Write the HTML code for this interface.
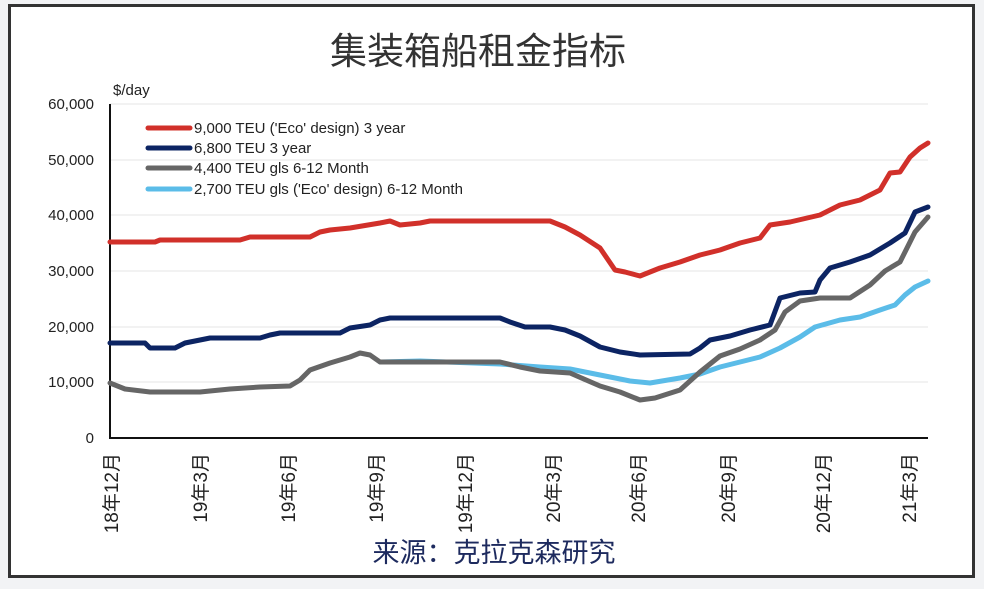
<!DOCTYPE html>
<html><head><meta charset="utf-8"><style>
body{margin:0;background:#f2f3f5;}
</style></head><body>
<svg width="984" height="589" xmlns="http://www.w3.org/2000/svg" style="display:block">
<rect x="0" y="0" width="984" height="589" fill="#f2f3f5"/>
<rect x="9.5" y="5.5" width="964" height="571" fill="#fff" stroke="#333" stroke-width="3"/>
<text x="478" y="64" text-anchor="middle" font-family="Liberation Sans, Noto Sans CJK SC, sans-serif" font-size="37" fill="#333">集装箱船租金指标</text>
<text x="113" y="95" font-family="Liberation Sans, sans-serif" font-size="15" fill="#222">$/day</text>
<g stroke="#e4e4e4" stroke-width="1">
<line x1="110" y1="104" x2="928" y2="104"/><line x1="110" y1="160" x2="928" y2="160"/>
<line x1="110" y1="215" x2="928" y2="215"/><line x1="110" y1="271" x2="928" y2="271"/>
<line x1="110" y1="327" x2="928" y2="327"/><line x1="110" y1="382" x2="928" y2="382"/>
</g>
<g font-family="Liberation Sans, sans-serif" font-size="15" fill="#222" text-anchor="end">
<text x="94" y="109">60,000</text><text x="94" y="165">50,000</text><text x="94" y="220">40,000</text>
<text x="94" y="276">30,000</text><text x="94" y="332">20,000</text><text x="94" y="387">10,000</text>
<text x="94" y="443">0</text>
</g>
<line x1="110" y1="104" x2="110" y2="439" stroke="#111" stroke-width="2"/>
<line x1="109" y1="438" x2="928" y2="438" stroke="#111" stroke-width="2"/>
<g fill="none" stroke-width="5" stroke-linejoin="round" stroke-linecap="round">
<polyline stroke="#5bbce8" points="380,362 420,361 500,364 540,367 570,369 600,375 630,381 650,383 680,378 700,374 720,367 740,362 760,357 780,348 800,337 815,327 840,320 860,317 880,310 895,305 905,295 915,287 928,281"/>
<polyline stroke="#666" points="110,383 125,389 150,392 200,392 230,389 260,387 290,386 300,380 310,370 330,363 350,357 360,353 370,355 380,362 400,362 500,362 520,367 540,371 570,373 600,386 620,392 640,400 655,398 680,390 700,372 720,356 740,349 760,340 775,330 785,312 800,301 820,298 850,298 870,285 885,271 900,262 915,232 928,217"/>
<polyline stroke="#0c2463" points="110,343 145,343 150,348 175,348 185,343 200,340 210,338 260,338 270,335 280,333 340,333 350,328 370,325 380,320 390,318 500,318 510,322 525,327 550,327 565,330 580,336 600,347 620,352 640,355 690,354 700,348 710,340 730,336 750,330 770,325 780,298 800,293 815,292 820,280 830,268 850,262 870,255 890,243 905,233 915,212 928,207"/>
<polyline stroke="#d1302a" points="110,242 155,242 160,240 240,240 250,237 310,237 320,232 330,230 350,228 380,223 390,221 400,225 420,223 430,221 550,221 565,227 580,235 600,248 615,270 625,272 640,276 660,268 680,262 700,255 720,250 740,243 760,238 770,225 790,222 820,215 840,205 860,200 880,190 890,173 900,172 910,157 920,148 928,143"/>
</g>
<g stroke-width="5" stroke-linecap="round">
<line x1="148" y1="128" x2="190" y2="128" stroke="#d1302a"/>
<line x1="148" y1="148" x2="190" y2="148" stroke="#0c2463"/>
<line x1="148" y1="168" x2="190" y2="168" stroke="#666"/>
<line x1="148" y1="189" x2="190" y2="189" stroke="#5bbce8"/>
</g>
<g font-family="Liberation Sans, sans-serif" font-size="15" fill="#222">
<text x="194" y="133">9,000 TEU ('Eco' design) 3 year</text>
<text x="194" y="153">6,800 TEU 3 year</text>
<text x="194" y="173">4,400 TEU gls 6-12 Month</text>
<text x="194" y="194">2,700 TEU gls ('Eco' design) 6-12 Month</text>
</g>
<g font-family="Liberation Sans, Noto Sans CJK SC, sans-serif" font-size="19" fill="#222" text-anchor="end">
<text transform="translate(118,453) rotate(-90)">18年12月</text>
<text transform="translate(207,453) rotate(-90)">19年3月</text>
<text transform="translate(295,453) rotate(-90)">19年6月</text>
<text transform="translate(383,453) rotate(-90)">19年9月</text>
<text transform="translate(472,453) rotate(-90)">19年12月</text>
<text transform="translate(560,453) rotate(-90)">20年3月</text>
<text transform="translate(645,453) rotate(-90)">20年6月</text>
<text transform="translate(735,453) rotate(-90)">20年9月</text>
<text transform="translate(830,453) rotate(-90)">20年12月</text>
<text transform="translate(916,453) rotate(-90)">21年3月</text>
</g>
<text x="494" y="562" text-anchor="middle" font-family="Liberation Sans, Noto Sans CJK SC, sans-serif" font-size="27" fill="#1d2a5e">来源：克拉克森研究</text>
</svg>
</body></html>
